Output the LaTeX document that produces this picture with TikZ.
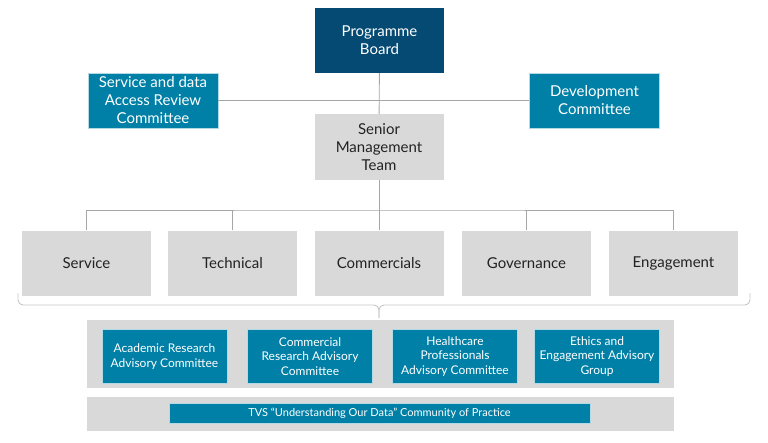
\documentclass[tikz,border=0pt]{standalone}
\usepackage{fontspec}
\setmainfont{Lato}
\usepackage{tikz}
\definecolor{navy}{HTML}{044A73}
\definecolor{teal}{HTML}{0080A6}
\definecolor{boxgrey}{HTML}{D9D9D9}
\definecolor{linegrey}{HTML}{A6A6A6}
\definecolor{textgrey}{HTML}{222222}
\begin{document}
\begin{tikzpicture}[x=1pt,y=-1pt]
\tikzstyle{every node}=[shape=rectangle, align=center, inner sep=2pt, font=\fontsize{15}{18}\selectfont]
\tikzstyle{topbox}=[fill=navy, text=white, minimum width=129pt, minimum height=65pt]
\tikzstyle{sidebox}=[fill=teal, text=white, draw=white!70!teal, minimum width=130pt, minimum height=55pt]
\tikzstyle{greybox}=[fill=boxgrey, text=textgrey, minimum width=129pt, minimum height=65pt]
\tikzstyle{band}=[fill=boxgrey, minimum width=587pt]
\tikzstyle{advbox}=[fill=teal, text=white, draw=white!70!teal, minimum width=125pt, minimum height=54pt, font=\fontsize{12}{14.5}\selectfont]
\tikzstyle{link}=[draw=linegrey, line width=0.9pt]
\useasboundingbox (0,0) rectangle (768,442);
\node at (379.5,40.5) [topbox] (board) {Programme\\Board};
\node at (153,100.5) [sidebox] (sdarc) {Service and data\\Access Review\\Committee};
\node at (594.5,100.5) [sidebox] (devc) {Development\\Committee};
\node at (379,147) [greybox, minimum height=66pt] (smt) {Senior\\Management\\Team};
\node at (86.5,263) [greybox] (service) {Service};
\node at (232.5,263) [greybox] (technical) {Technical};
\node at (379,263) [greybox] (commercials) {Commercials};
\node at (526.5,263) [greybox] (governance) {Governance};
\node at (673.5,263) [greybox] (engagement) {Engagement};
\node at (380,354) [band, minimum height=68pt] (advband) {};
\node at (164.5,356.5) [advbox] (arac) {Academic Research\\Advisory Committee};
\node at (310,356.5) [advbox] (crac) {Commercial\\Research Advisory\\Committee};
\node at (455,356.5) [advbox] (hpac) {Healthcare\\Professionals\\Advisory Committee};
\node at (597,356.5) [advbox] (eeag) {Ethics and\\Engagement Advisory\\Group};
\node at (380,414) [band, minimum height=34pt] (copband) {};
\node at (379.5,413) [advbox, minimum width=421pt, minimum height=20pt, font=\fontsize{11}{13}\selectfont] (tvs) {TVS \textquotedblleft Understanding Our Data\textquotedblright{} Community of Practice};
\coordinate (bus) at (379,210);
\coordinate (bracel) at (18,293);
\coordinate (bracer) at (750,293);
\coordinate (bracemid) at (379,305);
\coordinate (bracetip) at (379,318);
\draw[link] (board) -- (smt);
\draw[link] (sdarc) -- (devc);
\draw[link] (smt) -- (bus);
\draw[link] (service.north) |- (bus) -| (engagement.north);
\draw[link] (technical.north) -- (technical.north |- bus);
\draw[link] (commercials.north) -- (bus);
\draw[link] (governance.north) -- (governance.north |- bus);
% brace under the five workstreams
\draw[link, draw=linegrey!65, rounded corners=5pt] (bracel) |- (bracemid) -- (bracetip);
\draw[link, draw=linegrey!65, rounded corners=5pt] (bracer) |- (bracemid) -- (bracetip);
\end{tikzpicture}
\end{document}
